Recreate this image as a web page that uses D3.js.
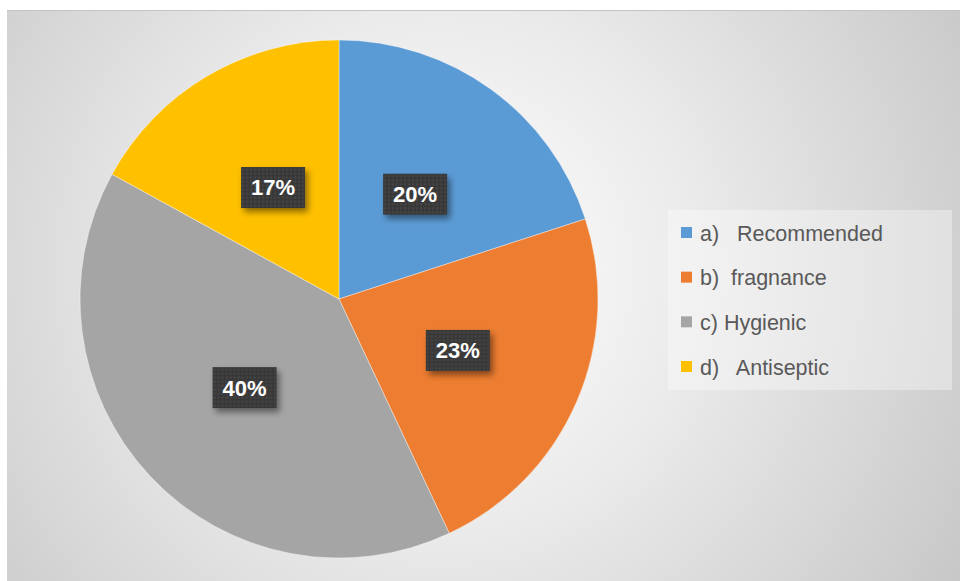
<!DOCTYPE html>
<html>
<head>
<meta charset="utf-8">
<script src="https://cdn.jsdelivr.net/npm/d3@7"></script>
<style>
  html, body { margin: 0; padding: 0; background: #ffffff; }
  svg { display: block; }
</style>
</head>
<body>
<svg id="chart" width="960" height="581"></svg>
<script>
// Reasons for choosing a soap — share of respondents
const categories = ["a)   Recommended", "b)  fragnance", "c) Hygienic", "d)   Antiseptic"];
const values = [20, 23, 40, 17];
const colors = ["#5B9BD5", "#ED7D31", "#A5A5A5", "#FFC000"];

const svg = d3.select("#chart");
const W = 960, H = 581;
const defs = svg.append("defs");

// chart area background: light centre fading to grey edges
const bg = defs.append("radialGradient")
  .attr("id", "bgGrad")
  .attr("gradientUnits", "userSpaceOnUse")
  .attr("cx", 440).attr("cy", 270).attr("r", 640);
bg.append("stop").attr("offset", "0%").attr("stop-color", "#ffffff");
bg.append("stop").attr("offset", "40%").attr("stop-color", "#ebebeb");
bg.append("stop").attr("offset", "100%").attr("stop-color", "#c4c4c4");

// dark dotted fill for the data-label boxes
const pat = defs.append("pattern")
  .attr("id", "dots").attr("patternUnits", "userSpaceOnUse")
  .attr("width", 4).attr("height", 4);
pat.append("rect").attr("width", 4).attr("height", 4).attr("fill", "#393939");
pat.append("circle").attr("cx", 2).attr("cy", 2).attr("r", 0.9).attr("fill", "#4a4a4a");

const shadow = defs.append("filter").attr("id", "shadow")
  .attr("x", "-30%").attr("y", "-30%").attr("width", "170%").attr("height", "170%");
shadow.append("feDropShadow")
  .attr("dx", 3).attr("dy", 4).attr("stdDeviation", 3)
  .attr("flood-color", "#000").attr("flood-opacity", 0.45);

const area = { x: 7, y: 10, w: W - 7, h: H - 10 };
svg.append("rect")
  .attr("x", area.x).attr("y", area.y)
  .attr("width", area.w).attr("height", area.h)
  .attr("fill", "url(#bgGrad)");
svg.append("line")
  .attr("x1", area.x).attr("x2", W).attr("y1", area.y + 0.5).attr("y2", area.y + 0.5)
  .attr("stroke", "#c4c4c4").attr("stroke-width", 1);

// pie
const cx = 339, cy = 299, R = 259;
const pie = d3.pie().value(d => d).sort(null);
const arcs = pie(values);
const arc = d3.arc().innerRadius(0).outerRadius(R);

const g = svg.append("g").attr("transform", `translate(${cx},${cy})`);
g.selectAll("path.slice")
  .data(arcs)
  .join("path")
  .attr("class", "slice")
  .attr("d", arc)
  .attr("fill", (d, i) => colors[i])
  .attr("stroke", "#ffffff")
  .attr("stroke-opacity", 0.5)
  .attr("stroke-width", 0.75);

// data labels
const boxW = 64, boxH = 41;
const labels = g.selectAll("g.lbl")
  .data(arcs)
  .join("g")
  .attr("class", "lbl")
  .attr("transform", d => {
    const [x, y] = arc.centroid(d);
    return `translate(${x},${y})`;
  });
labels.append("rect")
  .attr("x", -boxW / 2).attr("y", -boxH / 2)
  .attr("width", boxW).attr("height", boxH)
  .attr("fill", "url(#dots)")
  .attr("filter", "url(#shadow)");
labels.append("text")
  .attr("text-anchor", "middle")
  .attr("dy", "0.36em")
  .attr("fill", "#ffffff")
  .attr("font-family", "'Liberation Sans', Arial, sans-serif")
  .attr("font-weight", "bold")
  .attr("font-size", 22)
  .text(d => d.data + "%");

// legend
const leg = svg.append("g").attr("transform", "translate(668,210)");
leg.append("rect")
  .attr("width", 284).attr("height", 180)
  .attr("fill", "#ffffff").attr("fill-opacity", 0.35);
const rowY = d3.scalePoint().domain(categories).range([23, 157]);
const items = leg.selectAll("g.item")
  .data(categories)
  .join("g")
  .attr("class", "item")
  .attr("transform", d => `translate(0,${rowY(d)})`);
items.append("rect")
  .attr("x", 13).attr("y", -6)
  .attr("width", 11).attr("height", 11)
  .attr("fill", (d, i) => colors[i]);
items.append("text")
  .attr("x", 32)
  .attr("dy", "0.36em")
  .attr("xml:space", "preserve")
  .style("white-space", "pre")
  .attr("fill", "#595959")
  .attr("font-family", "'Liberation Sans', Arial, sans-serif")
  .attr("font-size", 21.5)
  .text(d => d);
</script>
</body>
</html>
